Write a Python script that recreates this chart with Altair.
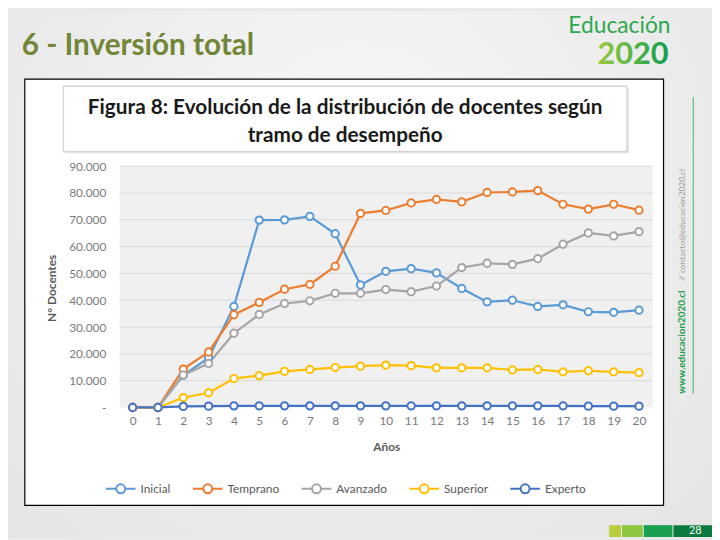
import altair as alt
import pandas as pd

# ---------------- data ----------------
years = list(range(21))
series_names = ["Inicial", "Temprano", "Avanzado", "Superior", "Experto"]
series_colors = ["#5B9BD5", "#ED7D31", "#A5A5A5", "#FFC000", "#4472C4"]

inicial = [0, 0, 12000, 18500, 37700, 69900, 70000, 71300, 64800, 45700, 50800,
           51800, 50200, 44400, 39400, 40000, 37700, 38300, 35700, 35500, 36300]
temprano = [0, 0, 14300, 20700, 34600, 39200, 44100, 45900, 52700, 72400, 73500,
            76300, 77600, 76700, 80200, 80400, 80900, 75800, 74000, 75800, 73600]
avanzado = [0, 0, 12100, 16400, 27700, 34700, 38800, 39800, 42600, 42600, 44000,
            43200, 45300, 52200, 53800, 53400, 55500, 60900, 65100, 64000, 65600]
superior = [0, 0, 3700, 5500, 10800, 11900, 13500, 14200, 14900, 15400, 15800,
            15600, 14800, 14800, 14800, 14000, 14200, 13300, 13700, 13300, 13000]
experto = [0, 0, 400, 500, 600, 600, 600, 600, 600, 600, 600,
           600, 600, 600, 600, 600, 600, 600, 500, 500, 500]

y_ticks = [0, 10000, 20000, 30000, 40000, 50000, 60000, 70000, 80000, 90000]
x_ticks = years

slide_title = "6 - Inversión total"
fig_title_1 = "Figura 8: Evolución de la distribución de docentes según"
fig_title_2 = "tramo de desempeño"
x_title = "Años"
y_title = "N° Docentes"
logo_word = "Educación"
logo_number = "2020"
url_bold = "www.educacion2020.cl"
url_rest = "// contacto@educacion2020.cl"
page_number = "28"

rows = []
for name, vals in zip(series_names, [inicial, temprano, avanzado, superior, experto]):
    for yr, v in zip(years, vals):
        rows.append({"Año": yr, "Docentes": v, "Tramo": name})
df = pd.DataFrame(rows)
grid_df = pd.DataFrame({"Docentes": y_ticks[1:]})
one = pd.DataFrame({"k": [0]})

# ---------------- layout ----------------
W, H = 539, 244
PAD = {"left": 113, "top": 157, "right": 60, "bottom": 131}
FONT = "Lato"
GRAY = "#595959"
LGRAY = "#7A7A7A"

x_scale = alt.Scale(domain=[-0.51, 20.54], nice=False, zero=False)
y_scale = alt.Scale(domain=[0, 90000], nice=False, zero=True)
color_scale = alt.Scale(domain=series_names, range=series_colors)

x_axis = alt.Axis(values=x_ticks, format="d", grid=False, ticks=False, domain=False,
                  labelFlush=False, labelPadding=8, labelFontSize=12, labelFont=FONT,
                  labelColor=LGRAY, title=x_title, titleFont=FONT, titleFontSize=12,
                  titleFontWeight="bold", titleColor=GRAY, titleY=40,
                  titleBaseline="middle", zindex=1)
y_axis = alt.Axis(values=y_ticks, grid=False, ticks=False, domain=False,
                  labelExpr="datum.value == 0 ? '-' : replace(format(datum.value, ','), ',', '.')",
                  labelPadding=14, labelFontSize=12, labelFont=FONT, labelColor=LGRAY,
                  title=y_title, titleFont=FONT, titleFontSize=12, titleFontWeight="bold",
                  titleColor=GRAY, titleX=-69, titleY=123, titleAngle=270,
                  titleAlign="center", titleBaseline="middle", zindex=1)

legend_symbol = ("M-1,0L-0.3,0M0.3,0L1,0M-0.3,0A0.3,0.3,0,1,1,0.3,0"
                 "A0.3,0.3,0,1,1,-0.3,0Z")


def box(x, x2, y, y2, **kw):
    return alt.Chart(one).mark_rect(**kw).encode(
        x=alt.value(x), x2=alt.value(x2), y=alt.value(y), y2=alt.value(y2))


def label(text, x, y, **kw):
    return alt.Chart(one).mark_text(text=text, **kw).encode(x=alt.value(x), y=alt.value(y))


bg = box(-113, 599, -157, 375, color={
    "gradient": "radial",
    "stops": [{"offset": 0, "color": "#F7F7F7"}, {"offset": 1, "color": "#E4E4E4"}],
    "x1": 0.5, "y1": 0.35, "r1": 0, "x2": 0.5, "y2": 0.35, "r2": 0.75})
white_box = box(-96, 550, -88, 343, fill="white", stroke="black", strokeWidth=1.2)
title_shadow = box(-55, 515, -79, -13, fill="#E6E6E6")
title_box = box(-57, 513, -81, -15, fill="white", stroke="#D6D6D6", strokeWidth=1.5)
plot_bg = box(0, W, 0, H, fill="#F0F0F0")

t_slide = label(slide_title, -99, -121, font=FONT, fontSize=30, fontWeight="bold",
                color="#718636", align="left", baseline="middle")
t_fig1 = label(fig_title_1, 228, -59, font=FONT, fontSize=21, fontWeight="bold",
               color="#1A1A1A", align="center", baseline="middle")
t_fig2 = label(fig_title_2, 228, -30, font=FONT, fontSize=21, fontWeight="bold",
               color="#1A1A1A", align="center", baseline="middle")
t_logo = label(logo_word, 557, -135, font=FONT, fontSize=23, color="#2DA84D",
               align="right", baseline="alphabetic")
t_number = label(logo_number, 555, -103, font=FONT, fontSize=31, fontWeight="bold",
                 align="right", baseline="alphabetic", color={
                     "gradient": "linear",
                     "stops": [{"offset": 0, "color": "#9BCB3C"},
                               {"offset": 1, "color": "#0E9F4E"}],
                     "x1": 0, "y1": 0, "x2": 1, "y2": 0})

vline = alt.Chart(one).mark_rule(color="#3DAF6A", strokeWidth=1).encode(
    x=alt.value(580), y=alt.value(-70), y2=alt.value(230))
t_url1 = label(url_bold, 569, 230, font=FONT, fontSize=10, fontWeight="bold",
               color="#1E9E4F", angle=270, align="left", baseline="middle")
t_url2 = label(url_rest, 569, 116, font=FONT, fontSize=8.5, color="#9A9A9A",
               angle=270, align="left", baseline="middle")

blocks = [
    box(495, 507, 363, 375, fill="#B9CF3A"),
    box(508, 529, 363, 375, fill="#8DC63F"),
    box(530, 559, 363, 375, fill="#1AA050"),
    box(560, 599, 363, 375, fill="#0B7A3E"),
]
t_page = label(page_number, 582, 369, font=FONT, fontSize=11, color="white",
               align="center", baseline="middle")

grid = alt.Chart(grid_df).mark_rule(color="#DADADA", strokeWidth=1).encode(
    y=alt.Y("Docentes:Q", scale=y_scale, axis=y_axis))

base = alt.Chart(df)
lines = base.mark_line(strokeWidth=2.25).encode(
    x=alt.X("Año:Q", scale=x_scale, axis=x_axis),
    y=alt.Y("Docentes:Q", scale=y_scale, axis=y_axis),
    color=alt.Color("Tramo:N", scale=color_scale, legend=alt.Legend(
        orient="none", legendX=-15, legendY=310, direction="horizontal", columns=5,
        title=None, symbolType=legend_symbol, symbolSize=900, symbolStrokeWidth=2,
        labelFontSize=12, labelFont=FONT, labelColor=GRAY, columnPadding=18,
        labelOffset=4, padding=0)),
    detail="Tramo:N",
)
points = base.mark_point(filled=False, fill="white", size=55, strokeWidth=2, opacity=1).encode(
    x=alt.X("Año:Q", scale=x_scale, axis=x_axis),
    y=alt.Y("Docentes:Q", scale=y_scale, axis=y_axis),
    color=alt.Color("Tramo:N", scale=color_scale, legend=None),
)

chart = alt.layer(
    bg, white_box, title_shadow, title_box, plot_bg, grid, lines, points,
    t_slide, t_fig1, t_fig2, t_logo, t_number, vline, t_url1, t_url2,
    *blocks, t_page,
).properties(
    width=W, height=H,
    autosize=alt.AutoSizeParams(type="none"),
    padding=PAD,
).configure_view(strokeWidth=0).configure(background="#E9E9E9")

chart.save("out.html", embed_options={"renderer": "svg", "actions": False})
